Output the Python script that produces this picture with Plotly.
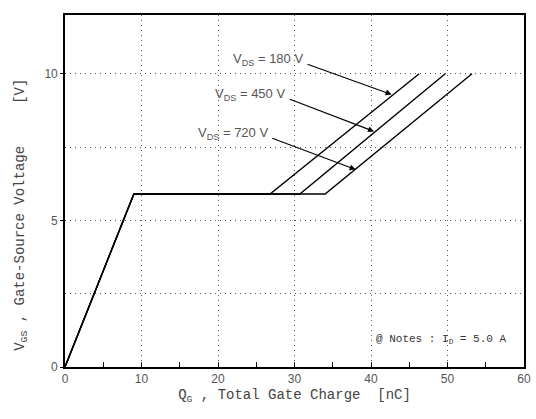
import plotly.graph_objects as go

# Data
vds_labels = ["V<sub>DS</sub> = 180 V", "V<sub>DS</sub> = 450 V", "V<sub>DS</sub> = 720 V"]
qg_180 = [0, 9.0, 26.8, 46.3]
vgs_180 = [0, 5.9, 5.9, 10.0]
qg_450 = [0, 9.0, 30.7, 49.7]
vgs_450 = [0, 5.9, 5.9, 10.0]
qg_720 = [0, 9.0, 34.0, 53.2]
vgs_720 = [0, 5.9, 5.9, 10.0]

# arrow tips (on curves) and tails
arrow_tip_x = [42.7, 40.4, 38.0]
arrow_tip_y = [9.29, 8.03, 6.73]
arrow_tail_x = [31.5, 29.2, 26.9]
arrow_tail_y = [10.34, 9.15, 7.82]

x_ticks = [0, 10, 20, 30, 40, 50, 60]
y_ticks = [0, 5, 10]

fig = go.Figure()
for xs, ys in [(qg_180, vgs_180), (qg_450, vgs_450), (qg_720, vgs_720)]:
    fig.add_trace(go.Scatter(x=xs, y=ys, mode="lines",
                             line=dict(color="black", width=1.4),
                             showlegend=False, hoverinfo="skip"))

for lab, tx, ty, ax, ay in zip(vds_labels, arrow_tip_x, arrow_tip_y, arrow_tail_x, arrow_tail_y):
    fig.add_annotation(x=tx, y=ty, ax=ax, ay=ay, xref="x", yref="y", axref="x", ayref="y",
                       text="", showarrow=True, arrowhead=2, arrowsize=1.1, arrowwidth=1.1,
                       arrowcolor="black", standoff=0, startstandoff=0)
    fig.add_annotation(x=ax, y=ay, xref="x", yref="y", text=lab, showarrow=False,
                       xanchor="right", yanchor="middle", xshift=-1, yshift=4,
                       font=dict(family="Liberation Sans", size=13, color="#555"))

fig.add_annotation(x=57.9, y=0.95, xref="x", yref="y",
                   text="@ Notes : I<sub>D</sub> = 5.0 A", showarrow=False,
                   xanchor="right", yanchor="middle",
                   font=dict(family="Liberation Mono", size=11, color="#333"))

# y-axis title as an annotation (it sits lower than the plot centre in the reference)
fig.add_annotation(x=-0.096, y=0.432, xref="paper", yref="paper",
                   text="V<sub>GS</sub> , Gate-Source Voltage&nbsp;&nbsp;&nbsp;&nbsp;&nbsp;[V]",
                   textangle=-90, showarrow=False, xanchor="center", yanchor="middle",
                   font=dict(family="Liberation Mono", size=14, color="#444"))

grid_dash = "1px,4px"
fig.update_layout(
    width=536, height=419,
    margin=dict(l=65, r=12, t=15, b=52, autoexpand=False),
    paper_bgcolor="white", plot_bgcolor="white",
    showlegend=False,
)
fig.update_xaxes(
    range=[0, 60], tickvals=x_ticks, ticks="inside", ticklen=5, tickwidth=1.2, tickcolor="black",
    showline=True, linecolor="black", linewidth=1.6, mirror=True,
    showgrid=True, gridcolor="#555", griddash=grid_dash, gridwidth=1.2,
    zeroline=False, automargin=False,
    minor=dict(dtick=5, ticks="inside", ticklen=5, tickcolor="black", showgrid=False),
    tickfont=dict(family="Liberation Sans", size=12, color="#555"),
    title=dict(text="Q<sub>G</sub> , Total Gate Charge&nbsp;&nbsp;[nC]", standoff=4,
               font=dict(family="Liberation Mono", size=14, color="#444")),
)
fig.update_yaxes(
    range=[0, 12], tickvals=y_ticks, ticks="outside", ticklen=3, tickwidth=1, tickcolor="black",
    showline=True, linecolor="black", linewidth=1.6, mirror=True,
    showgrid=True, gridcolor="#555", griddash=grid_dash, gridwidth=1.2,
    zeroline=False, automargin=False,
    minor=dict(dtick=2.5, showgrid=True, gridcolor="#555", griddash=grid_dash, gridwidth=1.2, ticks=""),
    tickfont=dict(family="Liberation Sans", size=12, color="#555"),
)

fig.write_html("out.html", config={"displayModeBar": False},
               post_script="document.body.style.margin='0';")
